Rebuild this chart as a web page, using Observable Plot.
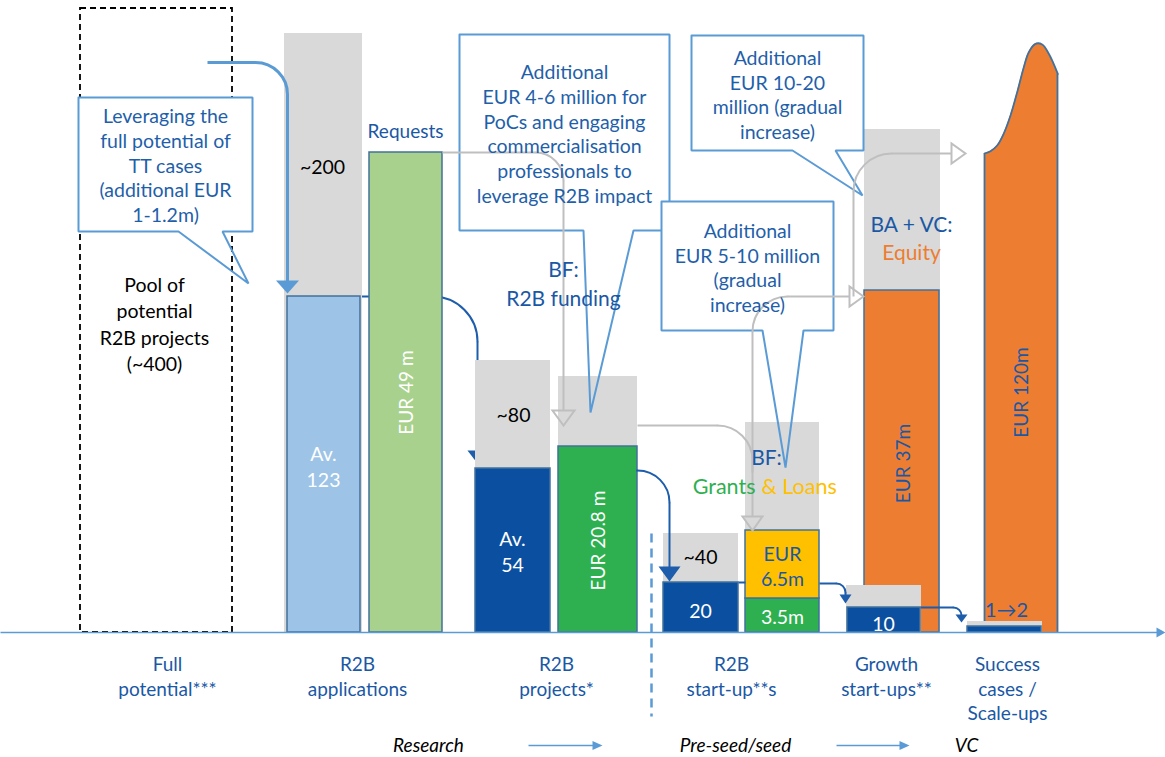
<!DOCTYPE html>
<html>
<head>
<meta charset="utf-8">
<script src="https://cdn.jsdelivr.net/npm/d3@7"></script>
<script src="https://cdn.jsdelivr.net/npm/@observablehq/plot@0.6"></script>
<style>
  html, body { margin: 0; padding: 0; background: #fff; }
  #chart { width: 1165px; height: 757px; overflow: hidden; }
  #chart svg { display: block; }
</style>
</head>
<body>
<div id="chart"></div>
<script>
// ================= DATA =================
const stages = ["Full potential***", "R2B applications", "R2B projects*", "R2B start-up**s", "Growth start-ups**", "Success cases / Scale-ups"];
const stageLabels = ["Full\npotential***", "R2B\napplications", "R2B\nprojects*", "R2B\nstart-up**s", "Growth\nstart-ups**", "Success\ncases /\nScale-ups"];
const phases = ["Research", "Pre-seed/seed", "VC"];

const potentialLabels = ["Pool of\npotential\nR2B projects\n(~400)", "~200", "~80", "~40", "", ""];
const potentialHeights = [624, 599, 272, 99, 47, 11];
const actualLabels = ["", "Av.\n123", "Av.\n54", "20", "10", "1→2"];
const actualHeights = [0, 336, 164, 50, 25, 6];

// funding per stage – schematic bar heights
const fundingLabels = ["", "EUR 49 m", "EUR 20.8 m", "3.5m", "EUR 37m", "EUR 120m"];
const fundingHeights = [0, 480, 186, 34, 342, 479];
const fundingGapHeights = [0, 0, 256, 210, 503, 0];
const loanLabel = "EUR\n6.5m";
const loanTop = 102;
// top profile of the scale-up funding shape
const peakOffsets = [0, 6, 12.7, 19.3, 26, 32.7, 39.3, 44.3, 51, 57.7, 64.3, 73.3];
const peakHeights = [479, 481.3, 487, 499, 517, 540.3, 565.3, 580.3, 588.7, 588, 578.7, 558.7];

const fundingTitles = [["Requests"], ["BF:", "R2B funding"], ["BF:", "Grants", "& Loans"], ["BA + VC:", "Equity"]];

const calloutTexts = [
  "Leveraging the\nfull potential of\nTT cases\n(additional EUR\n1-1.2m)",
  "Additional\nEUR 4-6 million for\nPoCs and engaging\ncommercialisation\nprofessionals to\nleverage R2B impact",
  "Additional\nEUR 5-10 million\n(gradual\nincrease)",
  "Additional\nEUR 10-20\nmillion (gradual\nincrease)"
];

// ================= LAYOUT =================
const potentialX = [[80, 232], [284, 362], [475, 550], [663, 738], [846, 921], [967, 1042]];
const actualX = [null, [287, 360], [475, 550], [663, 738], [847, 920], [967, 1041]];
const fundingX = [null, [369, 442], [558, 637], [745, 819], [864, 939], [984, 1057]];
const fundingGapX = [null, null, [558, 637], [745, 819], [864, 940], null];
const stageLabelX = [167, 357, 556, 731, 886, 1007];
const phaseX = [428, 735, 966];
const phaseArrows = [[528, 602], [836, 909]];

const calloutBoxes = [[78, 252, 401, 535], [459, 669, 402, 598], [661, 833, 302, 431], [691, 863, 482, 597]];
const calloutTails = [[178, 222, 248, 349], [583, 633, 590, 220], [762, 803, 785, 165], [792, 835, 862, 437]];
const calloutCenters = [[165, 468], [564, 499.5], [747, 365.5], [777, 538.5]];

// connectors: [from, corner, to, radius]
const lightConnector = [[207, 570], [287, 570], [287, 351], 32];
const blueConnectorsBack = [[[360, 336], [477, 336], [477, 184], 45]];
const blueConnectors = [
  [[636, 162], [669, 162], [669, 64], 32],
  [[819, 49], [845, 49], [845, 37], 9],
  [[920, 25], [961, 25], [961, 17], 8]
];
const blueStraight = [[[738, 50], [745, 50]]];
const greyConnectors = [
  [[442, 480], [563, 480], [563, 222], 28],
  [[637, 207], [752, 207], [752, 116], 35],
  [[752, 160], [752, 336], [849, 336], 35],
  [[853, 336], [853, 479], [951, 479], 38]
];
// heads: [x, y(tip), width, length, direction]
const lightHeads = [[287, 339, 23, 13, "down"]];
const blueHeadsBack = [[477, 169, 20, 13, "down"]];
const blueHeads = [[669, 51, 22, 15, "down"], [845, 29, 12, 9, "down"], [961, 10, 12, 8, "down"]];
const greyHeads = [[563, 207, 22, 15, "down"], [752, 102, 20, 14, "down"], [863, 336, 20, 14, "right"], [965, 479, 20, 14, "right"]];

// ================= STYLE =================
const C = {
  grey: "#d9d9d9", lightBlue: "#9dc3e6", lightGreen: "#a9d18e", darkBlue: "#0b50a0",
  green: "#2eb050", yellow: "#ffc000", orange: "#ed7d31", border: "#41719c",
  lightArrow: "#5b9bd5", blueArrow: "#1d5dab", greyArrow: "#bfbfbf", text: "#1a58a5", callText: "#1f5faa"
};
const FONT = "Lato, 'Open Sans', sans-serif";

// ================= HELPERS =================
function connector([from, corner, to, r]) {
  const sx = Math.sign(corner[0] - from[0]), sy = Math.sign(corner[1] - from[1]);
  const tx = Math.sign(to[0] - corner[0]), ty = Math.sign(to[1] - corner[1]);
  const a = [corner[0] - sx * r, corner[1] - sy * r];
  const b = [corner[0] + tx * r, corner[1] + ty * r];
  return {lines: [[from, a], [b, to]], arc: [a, b]};
}
function connectorMarks(list, stroke, strokeWidth) {
  const parts = list.map(connector);
  const lines = parts.flatMap(p => p.lines);
  const arcs = parts.map(p => p.arc);
  return [
    Plot.link(lines, {x1: d => d[0][0], y1: d => d[0][1], x2: d => d[1][0], y2: d => d[1][1], stroke, strokeWidth}),
    Plot.arrow(arcs, {x1: d => d[0][0], y1: d => d[0][1], x2: d => d[1][0], y2: d => d[1][1], bend: 45, headLength: 0, stroke, strokeWidth})
  ];
}
function headSymbol(w, h) {
  return {draw(ctx) { ctx.moveTo(0, 0); ctx.lineTo(-w / 2, -h); ctx.lineTo(w / 2, -h); ctx.closePath(); }};
}
function headMarks(list, fill, stroke, strokeWidth = 0) {
  return list.map(([x, y, w, h, dir]) => Plot.dot([[x, y]], {
    x: d => d[0], y: d => d[1], symbol: headSymbol(w, h), fill, stroke, strokeWidth,
    rotate: dir === "right" ? -90 : 0, strokeLinejoin: "miter"
  }));
}

// ================= TABLES =================
const poolBox = [{x1: potentialX[0][0], x2: potentialX[0][1], y1: 0, y2: potentialHeights[0]}];
const potentialBars = potentialHeights.map((h, i) => ({i, x1: potentialX[i][0], x2: potentialX[i][1], y1: 0, y2: h})).filter(d => d.i > 0);
const actualBars = actualHeights.map((h, i) => i === 0 ? null : ({i, x1: actualX[i][0], x2: actualX[i][1], y1: 0, y2: h, fill: i === 1 ? C.lightBlue : C.darkBlue})).filter(Boolean);
const gapBars = fundingGapHeights.map((h, i) => fundingGapX[i] ? ({x1: fundingGapX[i][0], x2: fundingGapX[i][1], y1: 0, y2: h}) : null).filter(Boolean);
const fundingFills = [null, C.lightGreen, C.green, C.green, C.orange, null];
const fundingBars = fundingHeights.map((h, i) => fundingFills[i] ? ({x1: fundingX[i][0], x2: fundingX[i][1], y1: 0, y2: h, fill: fundingFills[i]}) : null).filter(Boolean);
fundingBars.push({x1: fundingX[3][0], x2: fundingX[3][1], y1: fundingHeights[3], y2: loanTop, fill: C.yellow});
const peak = peakOffsets.map((dx, k) => ({x: fundingX[5][0] + dx, y: peakHeights[k]}));

const calloutFill = calloutBoxes.map(([x0, x1, y0, y1]) => ({x1: x0, x2: x1, y1: y0, y2: y1}));
const calloutOutline = (k) => {
  const [x0, x1, yb, yt] = calloutBoxes[k];
  const [tl, tr, tx, ty] = calloutTails[k];
  return [[x0, yt], [x1, yt], [x1, yb], [tr, yb], [tx, ty], [tl, yb], [x0, yb], [x0, yt]];
};

// ================= MARKS =================
const marks = [];
marks.push(Plot.rect(poolBox, {x1: "x1", x2: "x2", y1: "y1", y2: "y2", fill: "none", stroke: "#000", strokeWidth: 1.8, strokeDasharray: "6,4"}));
marks.push(...connectorMarks(blueConnectorsBack, C.blueArrow, 2), ...headMarks(blueHeadsBack, C.blueArrow, "none"));
marks.push(Plot.rect(gapBars, {x1: "x1", x2: "x2", y1: "y1", y2: "y2", fill: C.grey}));
marks.push(Plot.rect(fundingBars, {x1: "x1", x2: "x2", y1: "y1", y2: "y2", fill: d => d.fill, stroke: C.border, strokeWidth: 1.5}));
marks.push(Plot.areaY(peak, {x: "x", y1: 0, y2: "y", fill: C.orange, curve: "catmull-rom"}));
marks.push(Plot.line(peak, {x: "x", y: "y", stroke: C.border, strokeWidth: 1.8, curve: "catmull-rom"}));
marks.push(Plot.link([[fundingX[5][0], peakHeights[0]], [fundingX[5][1], peakHeights[peakHeights.length - 1]]],
  {x1: d => d[0], x2: d => d[0], y1: 0, y2: d => d[1], stroke: C.border, strokeWidth: 1.8}));
marks.push(Plot.rect(potentialBars, {x1: "x1", x2: "x2", y1: "y1", y2: "y2", fill: C.grey}));
marks.push(Plot.rect(actualBars, {x1: "x1", x2: "x2", y1: "y1", y2: "y2", fill: d => d.fill, stroke: C.border, strokeWidth: 1.5}));

calloutBoxes.forEach((b, k) => {
  marks.push(Plot.rect([calloutFill[k]], {x1: "x1", x2: "x2", y1: "y1", y2: "y2", fill: "white"}));
  marks.push(Plot.line(calloutOutline(k), {x: d => d[0], y: d => d[1], stroke: C.lightArrow, strokeWidth: 2, fill: "none", strokeLinejoin: "miter"}));
});

marks.push(...connectorMarks(greyConnectors, C.greyArrow, 2), ...headMarks(greyHeads, "none", C.greyArrow, 2));
marks.push(...connectorMarks([lightConnector], C.lightArrow, 3), ...headMarks(lightHeads, C.lightArrow, "none"));
marks.push(...connectorMarks(blueConnectors, C.blueArrow, 2), ...headMarks(blueHeads, C.blueArrow, "none"));
marks.push(Plot.link(blueStraight, {x1: d => d[0][0], y1: d => d[0][1], x2: d => d[1][0], y2: d => d[1][1], stroke: C.blueArrow, strokeWidth: 2}));

// baseline axis with arrow
marks.push(Plot.link([[0, 1157]], {x1: d => d[0], x2: d => d[1], y1: 0, y2: 0, stroke: C.lightArrow, strokeWidth: 1.5}));
marks.push(...headMarks([[1165, 0, 10, 9, "right"]], C.lightArrow, "none"));
// divider between research and pre-seed
marks.push(Plot.link([[651, 99, -84]], {x1: d => d[0], x2: d => d[0], y1: d => d[1], y2: d => d[2], stroke: C.lightArrow, strokeWidth: 2.5, strokeDasharray: "9,6"}));
// phase arrows
marks.push(Plot.link(phaseArrows, {x1: d => d[0], x2: d => d[1] - 8, y1: -113, y2: -113, stroke: C.lightArrow, strokeWidth: 1.5}));
marks.push(...headMarks(phaseArrows.map(a => [a[1], -113, 9, 10, "right"]), C.lightArrow, "none"));

// ---- texts ----
const T = (data, o) => Plot.text(data, {fontFamily: FONT, ...o});
// stage labels
marks.push(T(stageLabels.map((t, i) => ({t, x: stageLabelX[i]})), {x: "x", y: -21, text: "t", lineAnchor: "top", fill: C.text, fontSize: 19, lineHeight: 1.3}));
// phase labels
marks.push(T(phases.map((t, i) => ({t, x: phaseX[i]})), {x: "x", y: -113, text: "t", fill: "#000", fontSize: 19, fontStyle: "italic"}));
// pool label
marks.push(T([potentialLabels[0]], {x: 154, y: 309.5, text: d => d, fill: "#000", fontSize: 19.5, lineHeight: 1.36}));
// potential labels
const potLabelPos = [null, [322, 465], [513, 217], [700, 75]];
marks.push(T([1, 2, 3].map(i => ({t: potentialLabels[i], p: potLabelPos[i]})), {x: d => d.p[0], y: d => d.p[1], text: "t", fill: "#000", fontSize: 19.5}));
// actual labels
const actLabelPos = [null, [323, 167], [512, 82], [700, 23], [883, 10], [1006, 22]];
marks.push(T([1, 2, 3, 4].map(i => ({t: actualLabels[i], p: actLabelPos[i]})), {x: d => d.p[0], y: d => d.p[1], text: "t", fill: "white", fontSize: 19.5, lineHeight: 1.33}));
marks.push(T([{t: actualLabels[5], p: actLabelPos[5]}], {x: d => d.p[0], y: d => d.p[1], text: "t", fill: C.text, fontSize: 20}));
// funding labels (rotated)
const fundLabelPos = [null, [406, 240, "white"], [598, 92, "white"], null, [903, 169, C.text], [1021, 240, C.text]];
marks.push(T([1, 2, 4, 5].map(i => ({t: fundingLabels[i], p: fundLabelPos[i]})), {x: d => d.p[0], y: d => d.p[1], text: "t", fill: d => d.p[2], fontSize: 19, rotate: -90}));
marks.push(T([fundingLabels[3]], {x: 782, y: 15, text: d => d, fill: "white", fontSize: 19.5}));
marks.push(T([loanLabel], {x: 782, y: 67, text: d => d, fill: C.text, fontSize: 19.5, lineHeight: 1.3}));
// funding titles
marks.push(T([fundingTitles[0][0]], {x: 405, y: 501, text: d => d, fill: C.text, fontSize: 19}));
marks.push(T([fundingTitles[1].join("\n")], {x: 563, y: 350.5, text: d => d, fill: C.text, fontSize: 21, lineHeight: 1.38}));
marks.push(T([fundingTitles[2][0]], {x: 766, y: 174, text: d => d, fill: C.text, fontSize: 21}));
marks.push(T([fundingTitles[2][1]], {x: 755, y: 145, text: d => d, fill: C.green, fontSize: 21.5, textAnchor: "end"}));
marks.push(T([fundingTitles[2][2]], {x: 761, y: 145, text: d => d, fill: C.yellow, fontSize: 21.5, textAnchor: "start"}));
marks.push(T([fundingTitles[3][0]], {x: 911, y: 407, text: d => d, fill: C.text, fontSize: 21}));
marks.push(T([fundingTitles[3][1]], {x: 911, y: 379, text: d => d, fill: C.orange, fontSize: 21}));
// callout texts
marks.push(T(calloutTexts.map((t, k) => ({t, p: calloutCenters[k]})), {x: d => d.p[0], y: d => d.p[1], text: "t", fill: C.callText, fontSize: 19.5, lineHeight: 1.28}));

const chart = Plot.plot({
  width: 1165, height: 757,
  marginTop: 0, marginRight: 0, marginBottom: 0, marginLeft: 0,
  x: {domain: [0, 1165], range: [0, 1165], axis: null},
  y: {domain: [-125, 632], range: [757, 0], axis: null},
  color: {type: "identity"},
  style: {fontFamily: FONT, background: "white", overflow: "visible"},
  marks
});
document.getElementById("chart").appendChild(chart);
</script>
</body>
</html>
